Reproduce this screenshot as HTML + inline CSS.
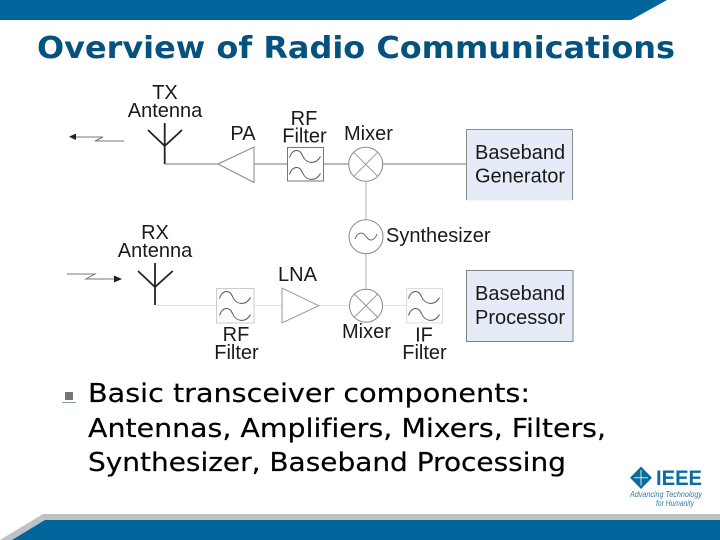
<!DOCTYPE html>
<html>
<head>
<meta charset="utf-8">
<title>Overview of Radio Communications</title>
<style>
html,body{margin:0;padding:0;background:#fff;width:720px;height:540px;overflow:hidden}
svg{display:block}
.l{font-family:"Liberation Sans",sans-serif;font-size:20px;fill:#1a1a1a}
.d{font-family:"DejaVu Sans",sans-serif;fill:#000;font-size:26px;font-variant-ligatures:none;stroke:#000;stroke-width:.2}
.w{fill:none;stroke:#555;stroke-width:1}
</style>
</head>
<body>
<svg width="720" height="540" viewBox="0 0 720 540" xmlns="http://www.w3.org/2000/svg">
<!-- header / footer -->
<polygon points="0,0 667,0 631,20 0,20" fill="#00659b"/>
<polygon points="43,514 720,514 720,540 0,540" fill="#bfc1c2"/>
<polygon points="45,520 720,520 720,540 12,540" fill="#00659b"/>
<text x="37" y="58" textLength="638" lengthAdjust="spacingAndGlyphs" font-family="'DejaVu Sans',sans-serif" font-weight="bold" font-size="30" fill="#06527f">Overview of Radio Communications</text>

<!-- TX wave -->
<polyline points="124,141 95,141 103,137 73,137" fill="none" stroke="#777" stroke-width="1"/>
<polygon points="69,136.700 76,133.500 76,140" fill="#222"/>
<!-- TX antenna -->
<path d="M164.700,123V164M148,130L164.700,146L182,130" fill="none" stroke="#222" stroke-width="1.800"/>
<!-- TX chain -->
<path d="M165,164H218M254,164H287M323,164H349M383,164H466" stroke="#777" stroke-width="1" fill="none"/>
<polygon points="218,164 254,147 254,182.500" fill="#fff" stroke="#888" stroke-width="1"/>
<rect x="287.500" y="147.500" width="36" height="33.500" fill="#fff" stroke="#777"/>
<g transform="translate(287.500,147.500)"><path class="w" d="M2,10C5,1 12,1 15,8C18,16 28,18 33,9"/><path class="w" d="M2,27C5,18 12,18 15,25C18,33 28,35 33,26"/></g>
<!-- TX mixer -->
<circle cx="365.700" cy="164.300" r="17" fill="#fff" stroke="#888"/>
<path d="M353.700,152.300L377.700,176.300M377.700,152.300L353.700,176.300" stroke="#999" fill="none"/>
<!-- Vertical LO -->
<path d="M366,181.500V219.500M366,254V289" stroke="#ccc" stroke-width="1.500" fill="none"/>
<circle cx="366" cy="236.700" r="17" fill="#fff" stroke="#888"/>
<path d="M355,239C358,231 363,232 366,236.500C369,241 374,242 377,234" fill="none" stroke="#666"/>
<!-- RX mixer -->
<circle cx="366" cy="305.700" r="16.500" fill="#fff" stroke="#888"/>
<path d="M354.300,294L377.700,317.400M377.700,294L354.300,317.400" stroke="#999" fill="none"/>
<!-- Baseband boxes -->
<rect x="466.500" y="129.500" width="106" height="71" fill="#e5ecf7"/>
<path d="M466.500,200V129.500H572.500V200" fill="none" stroke="#8a8f96"/>
<rect x="466.500" y="270.500" width="106.500" height="71" fill="#e5ecf7" stroke="#7d838c"/>

<!-- RX wave -->
<polyline points="67,274 95,274 86,279 116,279" fill="none" stroke="#777" stroke-width="1"/>
<polygon points="122,279 114,275.500 114,282.500" fill="#222"/>
<!-- RX antenna -->
<path d="M155,263V305M138,271L155,287L172.700,271" fill="none" stroke="#222" stroke-width="1.800"/>
<!-- RX chain -->
<path d="M156,305.500H216M254,305.500H282M319,305.500H349M383,305.500H406" stroke="#e2e2e2" stroke-width="1" fill="none"/>
<rect x="216.500" y="288.500" width="37.500" height="34.500" fill="#fdfdfd" stroke="#ccc"/>
<g transform="translate(217.500,288.500)"><path class="w" d="M2,10C5,1 12,1 15,8C18,16 28,18 33,9"/><path class="w" d="M2,27C5,18 12,18 15,25C18,33 28,35 33,26"/></g>
<polygon points="282,288 282,323 318.700,305.700" fill="#fff" stroke="#999"/>
<rect x="406.500" y="288.500" width="36" height="34.500" fill="#fdfdfd" stroke="#ddd"/>
<g transform="translate(406.500,288.500)"><path class="w" d="M2,10C5,1 12,1 15,8C18,16 28,18 33,9"/><path class="w" d="M2,27C5,18 12,18 15,25C18,33 28,35 33,26"/></g>

<!-- Labels -->
<text class="l" x="165" y="99" text-anchor="middle">TX</text>
<text class="l" x="165" y="117" text-anchor="middle">Antenna</text>
<text class="l" x="243" y="140" text-anchor="middle">PA</text>
<text class="l" x="304" y="125" text-anchor="middle">RF</text>
<text class="l" x="304.500" y="142.700" text-anchor="middle">Filter</text>
<text class="l" x="344" y="140">Mixer</text>
<text class="l" x="475" y="159">Baseband</text>
<text class="l" x="475" y="182.700">Generator</text>
<text class="l" x="386" y="242">Synthesizer</text>
<text class="l" x="155" y="239" text-anchor="middle">RX</text>
<text class="l" x="155" y="257" text-anchor="middle">Antenna</text>
<text class="l" x="278" y="281">LNA</text>
<text class="l" x="236" y="341" text-anchor="middle">RF</text>
<text class="l" x="236.500" y="359" text-anchor="middle">Filter</text>
<text class="l" x="342" y="338">Mixer</text>
<text class="l" x="424" y="341.700" text-anchor="middle">IF</text>
<text class="l" x="424.500" y="359" text-anchor="middle">Filter</text>
<text class="l" x="475" y="300">Baseband</text>
<text class="l" x="475" y="324">Processor</text>

<!-- Bullet -->
<rect x="65" y="392" width="8" height="8" fill="#757575"/>
<rect x="62" y="402" width="14" height="1" fill="#7f9cb0"/>
<!-- Body -->
<text class="d" x="88" y="402" textLength="442" lengthAdjust="spacingAndGlyphs">Basic transceiver components:</text>
<text class="d" x="88" y="437" textLength="518" lengthAdjust="spacingAndGlyphs">Antennas, Amplifiers, Mixers, Filters,</text>
<text class="d" x="88" y="471" textLength="478" lengthAdjust="spacingAndGlyphs">Synthesizer, Baseband Processing</text>

<!-- IEEE logo -->
<polygon points="641,466.500 652,477.700 641,489 630,477.700" fill="#0b6d9f"/>
<path d="M641,470V485.500M634,477.700H648" stroke="#cfe3ee" stroke-width="1" fill="none"/>
<text x="656" y="485" textLength="46" lengthAdjust="spacingAndGlyphs" font-family="'Liberation Sans',sans-serif" font-weight="bold" font-size="21" fill="#0b6d9f">IEEE</text>
<text x="630" y="497" textLength="72" lengthAdjust="spacingAndGlyphs" font-family="'Liberation Sans',sans-serif" font-style="italic" font-size="8" fill="#2f7ba6">Advancing Technology</text>
<text x="656" y="506" textLength="38" lengthAdjust="spacingAndGlyphs" font-family="'Liberation Sans',sans-serif" font-style="italic" font-size="8" fill="#2f7ba6">for Humanity</text>
</svg>
</body>
</html>
